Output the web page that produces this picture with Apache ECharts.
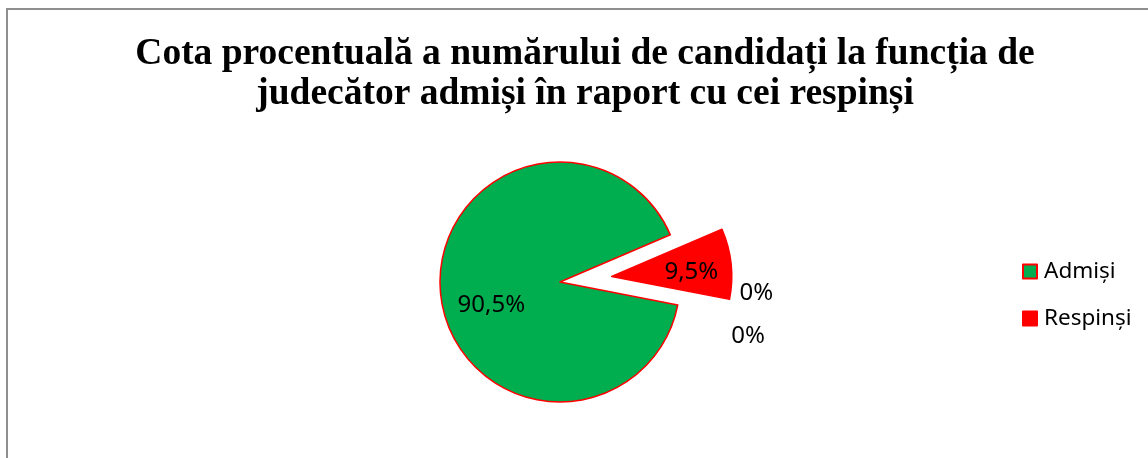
<!DOCTYPE html>
<html>
<head>
    <meta charset="utf-8">
    <title>Cota procentuală</title>
    <script src="https://cdn.jsdelivr.net/npm/echarts@6/dist/echarts.min.js"></script>
    <style>
        html, body { margin: 0; padding: 0; background: #fff; }
        #chart { width: 1148px; height: 458px; }
    </style>
</head>
<body>
<div id="chart"></div>
<script>
    // date
    var categories = ['Admiși', 'Respinși'];
    var values = [90.5, 9.5];
    var zeroValues = [0, 0];
    var colors = ['#00ad4f', '#ff0000'];
    var labelShift = [[-6, 16], [17, 2]];
    var zeroShift = [[-8, -15], [0, -15]];

    var pieData = [];
    for (var i = 0; i < categories.length; i++) {
        pieData.push({
            name: categories[i],
            value: values[i],
            selected: i === 1,
            itemStyle: { color: colors[i] },
            label: { offset: labelShift[i] },
            select: { label: { offset: labelShift[i] } }
        });
    }
    // doua felii nule, doar etichetele "0%" se vad
    for (var j = 0; j < zeroValues.length; j++) {
        pieData.push({
            name: 'zero' + j,
            value: zeroValues[j],
            itemStyle: { color: 'transparent', borderWidth: 0 },
            label: { position: 'outside', lineHeight: 41, offset: zeroShift[j] },
            labelLine: { show: false }
        });
    }

    var myChart = echarts.init(document.getElementById('chart'), null, { renderer: 'canvas' });

    var option = {
        animation: false,
        backgroundColor: '#fff',
        graphic: [{
            type: 'rect',
            shape: { x: 7, y: 9, width: 1300, height: 600 },
            style: { fill: 'none', stroke: '#8f8f8f', lineWidth: 2 },
            silent: true
        }],
        title: {
            text: 'Cota procentuală a numărului de candidați la funcția de\njudecător admiși în raport cu cei respinși',
            left: 580,
            top: 29,
            textAlign: 'center',
            textStyle: {
                fontFamily: 'Liberation Serif',
                fontWeight: 'bold',
                fontSize: 37.5,
                lineHeight: 40,
                color: '#000'
            }
        },
        legend: {
            data: categories,
            orient: 'vertical',
            left: 1017,
            top: 255,
            icon: 'rect',
            itemWidth: 14,
            itemHeight: 14,
            itemGap: 24,
            textStyle: {
                fontFamily: 'Noto Sans',
                fontSize: 22.5,
                color: '#000',
                padding: [0, 0, 0, 2]
            },
            selectedMode: false
        },
        series: [{
            type: 'pie',
            center: [560, 282],
            radius: 120,
            startAngle: -11,
            selectedMode: 'single',
            selectedOffset: 52,
            avoidLabelOverlap: true,
            emphasis: { disabled: true },
            itemStyle: { borderColor: '#ff0000', borderWidth: 1.5 },
            label: {
                show: true,
                position: 'inside',
                fontFamily: 'Noto Sans',
                fontSize: 24,
                color: '#000',
                formatter: function (p) {
                    if (p.value === 0) return '0%';
                    return p.percent.toFixed(1).replace('.', ',') + '%';
                }
            },
            labelLine: { length: 16, length2: 54 },
            data: pieData
        }]
    };

    myChart.setOption(option);
    window.addEventListener('resize', myChart.resize);
</script>
</body>
</html>
